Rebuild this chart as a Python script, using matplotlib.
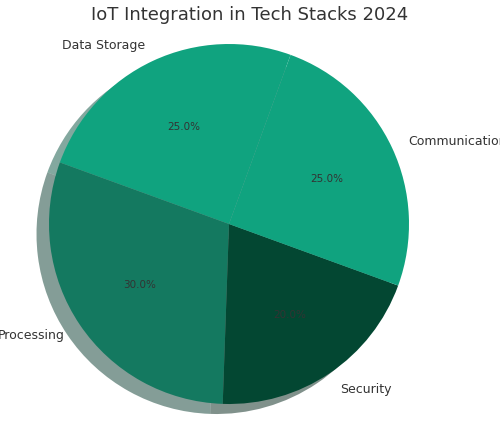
import matplotlib.pyplot as plt

labels = ["Data Storage", "Processing", "Security", "Communication"]
shares = [25, 30, 20, 25]
colors = ["#10a37f", "#147960", "#034732", "#10a37f"]

fig = plt.figure(figsize=(5, 4.31), dpi=100)
ax = fig.add_axes([31 / 500, 8 / 431, 396 / 500, 396 / 431])
ax.pie(shares, labels=labels, colors=colors, autopct="%1.1f%%", startangle=70,
       shadow={"ox": -0.05, "oy": -0.04, "shade": 0.5},
       wedgeprops={"linewidth": 0},
       textprops={"fontsize": 9, "color": "#333333"})
for t in ax.texts:
    if t.get_text().endswith("%"):
        t.set_fontsize(7.5)
ax.set_xlim(-1.1, 1.1)
ax.set_ylim(-1.1, 1.1)
ax.set_aspect("auto")
fig.suptitle("IoT Integration in Tech Stacks 2024", fontsize=13, color="#333333", y=0.985)
plt.savefig("out.png")
